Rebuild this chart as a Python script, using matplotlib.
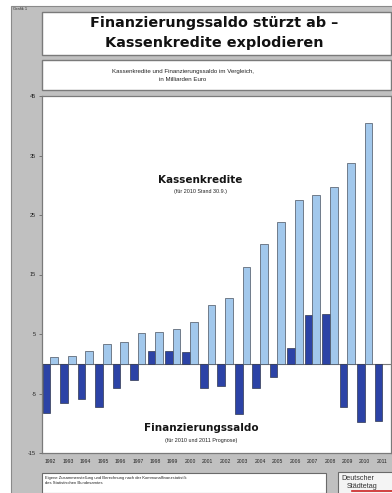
import numpy as np
import matplotlib
matplotlib.use("Agg")
import matplotlib.pyplot as plt
from matplotlib.patches import Rectangle
from matplotlib.lines import Line2D

years = [str(y) for y in range(1992, 2012)]
kassenkredite = [1.1, 1.35, 2.2, 3.35, 3.7, 5.2, 5.4, 5.9, 7.1, 9.8,
                 11.1, 16.2, 20.1, 23.9, 27.6, 28.4, 29.7, 33.8, 40.4, np.nan]
saldo = [-8.3, -6.6, -5.9, -7.3, -4.0, -2.8, 2.2, 2.2, 2.0, -4.1,
         -3.8, -8.4, -4.0, -2.3, 2.7, 8.2, 8.4, -7.2, -9.8, -9.6]
yticks = [45, 35, 25, 15, 5, -5, -15]

W, H = 392, 493
fig = plt.figure(figsize=(W / 100, H / 100), dpi=100, facecolor="white")

def box(x0, y0, x1, y1, fc, ec=None, lw=0.8, z=0):
    r = Rectangle((x0 / W, 1 - y1 / H), (x1 - x0) / W, (y1 - y0) / H,
                  transform=fig.transFigure, facecolor=fc,
                  edgecolor=ec if ec else "none", linewidth=lw, zorder=z)
    fig.add_artist(r)
    return r

def ftext(x, y, s, **kw):
    fig.text(x / W, 1 - y / H, s, **kw)

GRAY = "#c0c0c0"
box(11, 6, W + 2, H + 2, GRAY, "#8a8a8a", 0.8)
# title box
box(42, 12, 391, 55, "white", "#7a7a7a", 1.0)
ftext(214, 23.5, "Finanzierungssaldo stürzt ab –", ha="center", va="center",
      fontsize=10.4, fontweight="bold", family="DejaVu Sans", color="#111111")
ftext(214, 43.5, "Kassenkredite explodieren", ha="center", va="center",
      fontsize=10.4, fontweight="bold", family="DejaVu Sans", color="#111111")
# subtitle box
box(42, 60, 391, 90, "white", "#7a7a7a", 1.0)
ftext(183, 71, "Kassenkredite und Finanzierungssaldo im Vergleich,", ha="center",
      va="center", fontsize=4.4, family="Liberation Sans", color="#222222")
ftext(183, 79.5, "in Milliarden Euro", ha="center", va="center", fontsize=4.4,
      family="Liberation Sans", color="#222222")
ftext(13, 9.5, "Grafik 1", ha="left", va="center", fontsize=2.9,
      family="Liberation Sans", color="#333333")

# footnote box
box(42, 473, 326, 493, "white", "#6a6a6a", 0.8)
ftext(45, 477.5, "Eigene Zusammenstellung und Berechnung nach der Kommunalfinanzstatistik",
      ha="left", va="center", fontsize=3.0, family="Liberation Sans", color="#222222")
ftext(45, 483.5, "des Statistischen Bundesamtes", ha="left", va="center",
      fontsize=3.0, family="Liberation Sans", color="#222222")
# logo box
box(338, 472, 394, 494, "#f4f4f4", "#6a6a6a", 0.8)
ftext(341, 478, "Deutscher", ha="left", va="center", fontsize=5.2,
      family="Liberation Sans", color="#333333")
ftext(347, 486, "Städtetag", ha="left", va="center", fontsize=5.2,
      family="Liberation Sans", color="#333333")
fig.add_artist(Line2D([352 / W, 392 / W], [1 - 491 / H, 1 - 491 / H],
                      transform=fig.transFigure, color="#cc2222", lw=1.2))

# main axes
ax_l, ax_r, ax_t, ax_b = 41.7, 391.0, 96, 453
ax = fig.add_axes([ax_l / W, 1 - ax_b / H, (ax_r - ax_l) / W, (ax_b - ax_t) / H])
ax.set_facecolor("white")
x = np.arange(len(years))
bw = 0.44
ax.bar(x - bw / 2, saldo, width=bw, color="#2c43a6", edgecolor="#303850",
       linewidth=0.5, zorder=3)
ax.bar(x + bw / 2, kassenkredite, width=bw, color="#a2c8ec", edgecolor="#4a5260",
       linewidth=0.5, zorder=3)
ax.axhline(0, color="#7a7a7a", lw=0.8, zorder=2)
ax.set_xlim(-0.5, len(years) - 0.5)
ax.set_ylim(-15, 45)
ax.set_yticks(yticks)
ax.set_yticklabels([str(t) for t in yticks], fontsize=4.0,
                   family="Liberation Sans", color="#222222")
ax.set_xticks(x)
ax.set_xticklabels(years, fontsize=3.6, family="Liberation Sans", color="#222222")
ax.tick_params(axis="y", length=2, width=0.5, color="#555555", pad=2)
ax.tick_params(axis="x", length=0, pad=4)
for s in ax.spines.values():
    s.set_color("#7a7a7a")
    s.set_linewidth(0.9)

ax.text(8.57, 30.8, "Kassenkredite", ha="center", va="center", fontsize=7.5,
        fontweight="bold", family="DejaVu Sans", color="#151515", zorder=5)
ax.text(8.57, 28.9, "(für 2010 Stand 30.9.)", ha="center", va="center",
        fontsize=3.9, family="Liberation Sans", color="#222222", zorder=5)
ax.text(8.66, -10.75, "Finanzierungssaldo", ha="center", va="center", fontsize=7.5,
        fontweight="bold", family="DejaVu Sans", color="#151515", zorder=5)
ax.text(8.66, -12.9, "(für 2010 und 2011 Prognose)", ha="center", va="center",
        fontsize=3.9, family="Liberation Sans", color="#222222", zorder=5)

fig.savefig("out.png", dpi=100, facecolor="white")
